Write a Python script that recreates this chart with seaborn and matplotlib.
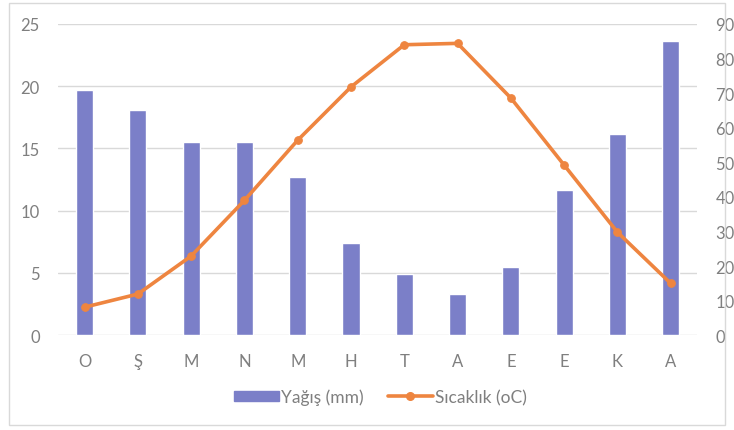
import pandas as pd
import seaborn as sns
import matplotlib.pyplot as plt
from matplotlib.patches import Rectangle
from matplotlib.lines import Line2D
from matplotlib.patches import Patch

# Data
months = ['O', 'Ş', 'M', 'N', 'M', 'H', 'T', 'A', 'E', 'E', 'K', 'A']
rain = [19.7, 18.1, 15.5, 15.5, 12.7, 7.4, 4.9, 3.3, 5.5, 11.7, 16.2, 23.6]
temp = [8.1, 11.9, 22.9, 39.0, 56.4, 71.8, 84.0, 84.4, 68.6, 49.2, 29.8, 15.0]

df = pd.DataFrame({'idx': range(len(months)), 'rain': rain, 'temp': temp})

sns.set_style('white')
plt.rcParams['font.family'] = ['Lato', 'DejaVu Sans']

bar_color = '#7B7FC8'
line_color = '#EE8540'
grey = '#7F7F7F'

fig = plt.figure(figsize=(7.34, 4.31), dpi=100)
ax = fig.add_axes([0.079, 0.220, 0.871, 0.722])

sns.barplot(data=df, x='idx', y='rain', color=bar_color, width=0.32,
            saturation=1, ax=ax, zorder=2)
ax.set_ylim(0, 25)
ax.set_yticks(range(0, 26, 5))
ax.grid(axis='y', color='#D9D9D9', linewidth=1, zorder=0)
ax.set_axisbelow(True)
ax.set_xticks(range(len(months)))
ax.set_xticklabels(months)
ax.set_xlabel('')
ax.set_ylabel('')
ax.set_xlim(-0.5, len(months) - 0.5)

ax2 = ax.twinx()
sns.lineplot(data=df, x='idx', y='temp', color=line_color, linewidth=2.6,
             marker='o', markersize=5.5, markeredgecolor=line_color, ax=ax2)
ax2.set_ylim(0, 90)
ax2.set_yticks(range(0, 91, 10))
ax2.set_ylabel('')
ax2.set_xlim(-0.5, len(months) - 0.5)

for a in (ax, ax2):
    for s in a.spines.values():
        s.set_visible(False)
    a.tick_params(length=0, labelsize=12, labelcolor=grey)
ax.tick_params(axis='x', pad=13)
ax.tick_params(axis='y', pad=13)
ax2.tick_params(axis='y', pad=13)

handles = [Patch(color=bar_color),
           Line2D([0], [0], color=line_color, linewidth=2.6, marker='o', markersize=5.5)]
fig.legend(handles, ['Yağış (mm)', 'Sıcaklık (oC)'], loc='center',
           bbox_to_anchor=(0.518, 0.077), ncol=2, frameon=False, fontsize=12.5,
           labelcolor=grey, handlelength=2.6, handletextpad=0.1, columnspacing=1.4,
           handleheight=0.55)

fig.patches.append(Rectangle((0.012, 0.012), 0.976, 0.978, transform=fig.transFigure,
                             fill=False, edgecolor='#D9D9D9', linewidth=1))

fig.savefig('out.png', dpi=100)
